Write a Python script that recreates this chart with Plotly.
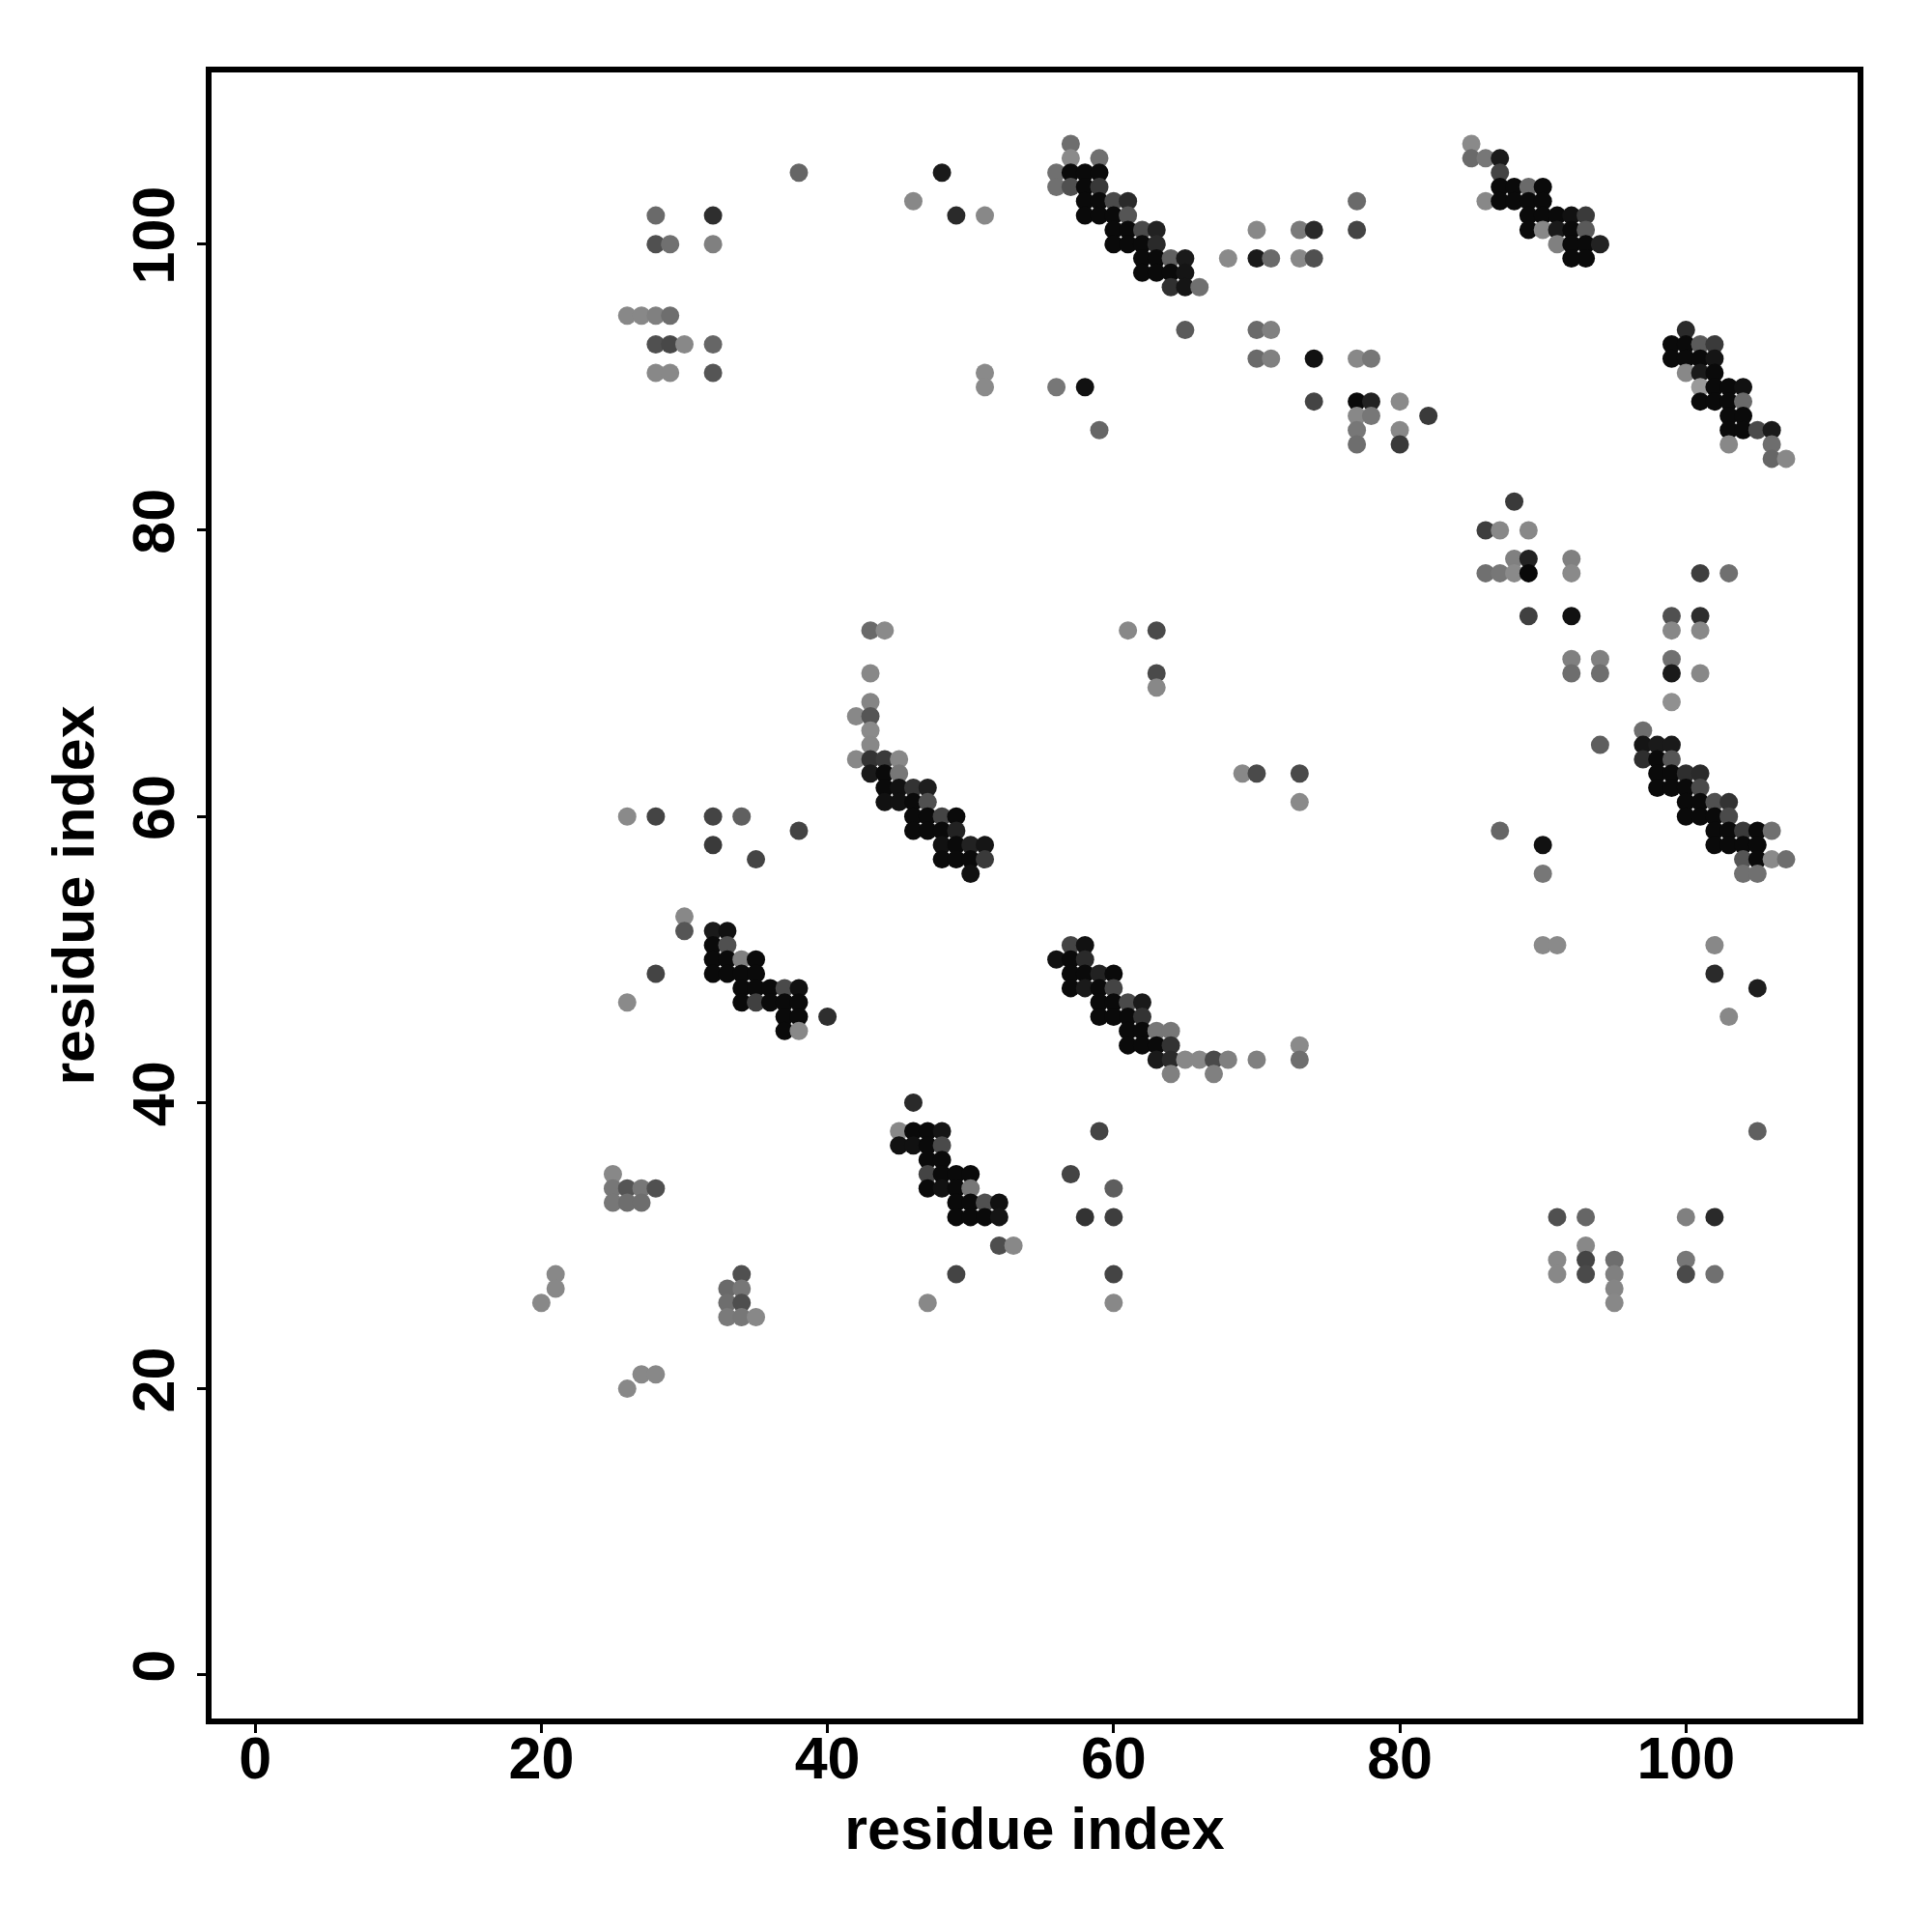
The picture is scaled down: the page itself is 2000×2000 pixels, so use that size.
import plotly.graph_objects as go

# residue index i (x), residue index j (y), grey level of the dot (0=black, 255=white)
res_i = [
    38, 48, 46, 49, 28, 32, 28, 29, 32, 26, 27, 28, 29, 28, 29, 30, 32, 28, 29, 32,
    51, 57, 57, 59, 56, 57, 58, 59, 56, 57, 58, 59, 58, 59, 60, 61, 58, 59, 60, 61,
    60, 61, 62, 63, 60, 61, 62, 63, 62, 63, 64, 65, 62, 63, 64, 65, 64, 65, 66, 65,
    68, 70, 70, 71, 73, 74, 73, 74, 77, 77, 70, 71, 70, 71, 74, 77, 78, 51, 51, 56,
    58, 59, 74, 77, 78, 80, 77, 78, 77, 77, 80, 80, 82,
    85, 85, 86, 87, 87, 87, 88, 89, 90, 86, 87, 88, 89, 90, 89, 90, 91, 92, 93, 89,
    90, 91, 92, 93, 91, 92, 93, 94, 92, 93,
    100, 99, 100, 101, 102, 99, 100, 101, 102, 100, 101, 102, 101, 102, 103, 104, 101, 102, 103, 104,
    103, 104, 103, 104, 105, 106, 103, 106, 106, 107, 88, 86, 87, 89,
    88, 89, 92, 86, 87, 88, 89, 92, 101, 103, 89, 92, 99, 101, 99, 101, 92, 94, 99, 92,
    94, 99, 101, 99, 97, 94, 97, 98, 99, 97, 98, 99, 98, 99, 100, 101, 98, 99, 100, 101,
    100, 101, 102, 103, 100, 101, 102, 103, 87, 102, 103, 104, 105, 106, 90, 102, 103, 104, 105, 104,
    105, 106, 107, 90, 104, 105, 90, 91, 102, 102, 105,
    43, 44, 43, 43, 42, 43, 43, 43, 42, 43, 44, 45, 43, 44, 45, 44, 45, 46, 47, 44,
    45, 46, 47, 26, 28, 32, 34, 46, 47, 48, 49, 38, 46, 47, 48, 49, 32, 48, 49, 50,
    51, 35, 48, 49, 50, 51, 50,
    30, 30, 32, 33, 32, 33, 32, 33, 34, 35, 28, 32, 33, 34, 35,
    34, 35, 36, 37, 38, 26, 34, 35, 36, 37, 38, 37, 38, 40, 37, 38,
    57, 58, 56, 57, 58, 57, 58, 59, 60, 57, 58, 59, 60, 59, 60, 61, 62, 59, 60, 61,
    62, 61, 62, 63, 64, 61, 62, 63, 64, 73, 63, 64, 65, 66, 67, 68, 70, 73, 64, 67,
    61, 63, 63, 63, 69, 70, 73, 73,
    46, 45, 46, 47, 48, 45, 46, 47, 48, 47, 48, 47, 48, 49, 50, 47, 48, 49, 50, 49,
    50, 51, 52, 49, 50, 51, 52, 52, 53, 49, 47, 25, 25, 26, 27, 28, 25, 26, 27, 21,
    34, 21, 33, 34, 20, 33, 34, 33, 34, 35, 27, 28, 26,
    59, 57, 60, 58, 60, 60, 60,
    103, 105, 91, 93, 100, 102, 93, 91, 93, 95, 100, 91, 93, 95, 100, 102, 95, 95,
]
res_j = [
    105, 105, 103, 102, 102, 102, 100, 100, 100, 95, 95, 95, 95, 93, 93, 93, 93, 91, 91, 91,
    102, 107, 106, 106, 105, 105, 105, 105, 104, 104, 104, 104, 103, 103, 103, 103, 102, 102, 102, 102,
    101, 101, 101, 101, 100, 100, 100, 100, 99, 99, 99, 99, 98, 98, 98, 98, 97, 97, 97, 94,
    99, 101, 99, 99, 101, 101, 99, 99, 103, 101, 94, 94, 92, 92, 92, 92, 92, 91, 90, 90,
    90, 87, 89, 89, 89, 89, 88, 88, 87, 86, 87, 86, 88,
    107, 106, 106, 106, 105, 104, 104, 104, 104, 103, 103, 103, 103, 103, 102, 102, 102, 102, 102, 101,
    101, 101, 101, 101, 100, 100, 100, 100, 99, 99,
    94, 93, 93, 93, 93, 92, 92, 92, 92, 91, 91, 91, 90, 90, 90, 90, 89, 89, 89, 89,
    88, 88, 87, 87, 87, 87, 86, 86, 85, 85, 82, 80, 80, 80,
    78, 78, 78, 77, 77, 77, 77, 77, 77, 77, 74, 74, 74, 74, 73, 73, 71, 71, 71, 70,
    70, 70, 70, 68, 66, 65, 65, 65, 65, 64, 64, 64, 63, 63, 63, 63, 62, 62, 62, 62,
    61, 61, 61, 61, 60, 60, 60, 60, 59, 59, 59, 59, 59, 59, 58, 58, 58, 58, 58, 57,
    57, 57, 57, 56, 56, 56, 51, 51, 51, 49, 48,
    73, 73, 70, 68, 67, 67, 66, 65, 64, 64, 64, 64, 63, 63, 63, 62, 62, 62, 62, 61,
    61, 61, 61, 60, 60, 60, 60, 60, 60, 60, 60, 59, 59, 59, 59, 59, 58, 58, 58, 58,
    58, 57, 57, 57, 57, 57, 56,
    53, 52, 52, 52, 51, 51, 50, 50, 50, 50, 49, 49, 49, 49, 49,
    48, 48, 48, 48, 48, 47, 47, 47, 47, 47, 47, 46, 46, 46, 45, 45,
    51, 51, 50, 50, 50, 49, 49, 49, 49, 48, 48, 48, 48, 47, 47, 47, 47, 46, 46, 46,
    46, 45, 45, 45, 45, 44, 44, 44, 44, 44, 43, 43, 43, 43, 43, 43, 43, 43, 42, 42,
    73, 73, 70, 69, 63, 63, 63, 61,
    40, 38, 38, 38, 38, 37, 37, 37, 37, 36, 36, 35, 35, 35, 35, 34, 34, 34, 34, 33,
    33, 33, 33, 32, 32, 32, 32, 30, 30, 28, 26, 35, 34, 34, 34, 34, 33, 33, 33, 28,
    28, 27, 27, 27, 26, 26, 26, 25, 25, 25, 21, 21, 20,
    38, 35, 34, 32, 32, 28, 26,
    46, 38, 32, 32, 32, 32, 30, 29, 29, 29, 29, 28, 28, 28, 28, 28, 27, 26,
]
shade = [
    0x66, 0x1a, 0x88, 0x2a, 0x6a, 0x2e, 0x50, 0x70, 0x80, 0x88, 0x88, 0x80, 0x6e, 0x50, 0x48, 0x88, 0x66, 0x88, 0x88, 0x55,
    0x88, 0x6e, 0x8a, 0x70, 0x70, 0x0a, 0x0a, 0x0a, 0x70, 0x50, 0x0a, 0x38, 0x0a, 0x0a, 0x4a, 0x2a, 0x0a, 0x0a, 0x0a, 0x55,
    0x0a, 0x0a, 0x4a, 0x22, 0x0a, 0x0a, 0x0a, 0x2a, 0x0a, 0x0a, 0x60, 0x1a, 0x0a, 0x0a, 0x0a, 0x15, 0x30, 0x15, 0x70, 0x5a,
    0x8a, 0x88, 0x1a, 0x6a, 0x7a, 0x2a, 0x88, 0x50, 0x6a, 0x44, 0x6a, 0x80, 0x6a, 0x80, 0x11, 0x88, 0x77, 0x8a, 0x8a, 0x77,
    0x11, 0x66, 0x44, 0x0a, 0x22, 0x8a, 0x88, 0x77, 0x77, 0x6e, 0x88, 0x3a, 0x3a,
    0x8a, 0x6a, 0x77, 0x1a, 0x44, 0x0a, 0x0a, 0x6a, 0x0a, 0x88, 0x0a, 0x0a, 0x0a, 0x0a, 0x0a, 0x0a, 0x0a, 0x11, 0x3a, 0x0a,
    0x88, 0x1a, 0x0a, 0x5a, 0x80, 0x0a, 0x0a, 0x22, 0x0a, 0x0a,
    0x2a, 0x0a, 0x0a, 0x5a, 0x3a, 0x0a, 0x0a, 0x0a, 0x15, 0x88, 0x1a, 0x0a, 0x99, 0x0a, 0x0a, 0x11, 0x0a, 0x0a, 0x0a, 0x6a,
    0x0a, 0x0a, 0x0a, 0x0a, 0x4a, 0x1a, 0x88, 0x6e, 0x66, 0x88, 0x3a, 0x3e, 0x88, 0x88,
    0x80, 0x22, 0x80, 0x70, 0x77, 0x8a, 0x08, 0x8a, 0x3e, 0x70, 0x40, 0x11, 0x50, 0x2e, 0x88, 0x88, 0x80, 0x80, 0x70, 0x6e,
    0x6e, 0x1a, 0x88, 0x90, 0x6e, 0x5e, 0x15, 0x1a, 0x1a, 0x2e, 0x0a, 0x55, 0x0a, 0x0a, 0x2e, 0x2a, 0x0a, 0x0a, 0x0a, 0x4a,
    0x0a, 0x0a, 0x50, 0x33, 0x0a, 0x0a, 0x0a, 0x4a, 0x66, 0x0a, 0x0a, 0x3a, 0x0a, 0x70, 0x11, 0x0a, 0x0a, 0x0a, 0x0a, 0x55,
    0x0a, 0x8a, 0x6e, 0x77, 0x70, 0x70, 0x8a, 0x8a, 0x88, 0x2a, 0x1e,
    0x6a, 0x8a, 0x88, 0x85, 0x88, 0x55, 0x8a, 0x88, 0x88, 0x33, 0x3a, 0x88, 0x1a, 0x0a, 0x77, 0x0a, 0x11, 0x33, 0x1e, 0x11,
    0x11, 0x0a, 0x50, 0x8a, 0x44, 0x44, 0x60, 0x0a, 0x0a, 0x44, 0x0a, 0x44, 0x0a, 0x0a, 0x0a, 0x22, 0x3a, 0x11, 0x0a, 0x22,
    0x15, 0x44, 0x0a, 0x0a, 0x0a, 0x3a, 0x11,
    0x88, 0x55, 0x1a, 0x11, 0x0a, 0x50, 0x0a, 0x0a, 0x80, 0x0a, 0x44, 0x0a, 0x0a, 0x0a, 0x0a,
    0x0a, 0x0a, 0x0a, 0x4a, 0x11, 0x8a, 0x0a, 0x40, 0x0a, 0x0a, 0x0a, 0x0a, 0x0a, 0x2e, 0x0a, 0x88,
    0x44, 0x11, 0x11, 0x0a, 0x2a, 0x0a, 0x0a, 0x22, 0x0a, 0x0a, 0x1a, 0x0a, 0x44, 0x0a, 0x0a, 0x4a, 0x1a, 0x0a, 0x0a, 0x0a,
    0x33, 0x0a, 0x0a, 0x77, 0x77, 0x0a, 0x0a, 0x0a, 0x33, 0x8a, 0x1a, 0x2a, 0x88, 0x88, 0x4a, 0x80, 0x80, 0x6e, 0x80, 0x80,
    0x88, 0x4a, 0x4a, 0x88, 0x88, 0x4a, 0x4a, 0x8a,
    0x2a, 0x88, 0x0a, 0x0a, 0x15, 0x11, 0x11, 0x0a, 0x4a, 0x0a, 0x0a, 0x44, 0x0a, 0x0a, 0x0a, 0x0a, 0x11, 0x0a, 0x77, 0x0a,
    0x0a, 0x50, 0x11, 0x0a, 0x0a, 0x0a, 0x15, 0x4e, 0x88, 0x44, 0x88, 0x88, 0x77, 0x55, 0x77, 0x50, 0x77, 0x6e, 0x6e, 0x88,
    0x50, 0x88, 0x6a, 0x77, 0x88, 0x6e, 0x4e, 0x7a, 0x77, 0x88, 0x88, 0x88, 0x88,
    0x44, 0x44, 0x5e, 0x33, 0x3e, 0x44, 0x88,
    0x88, 0x60, 0x50, 0x66, 0x80, 0x2a, 0x88, 0x88, 0x44, 0x6e, 0x77, 0x88, 0x4a, 0x80, 0x4a, 0x70, 0x85, 0x88,
]

tick_vals = [0, 20, 40, 60, 80, 100]
axis_title = "residue index"

colors = [f"rgb({g},{g},{g})" for g in shade]

fig = go.Figure(
    go.Scatter(
        x=res_i,
        y=res_j,
        mode="markers",
        marker=dict(size=19, color=colors, line=dict(width=0)),
        hoverinfo="x+y",
    )
)

font = dict(family="Liberation Sans, Arial, Helvetica, sans-serif", size=61, color="black", weight="bold")

axis_common = dict(
    range=[-3.05, 112.0],
    tickvals=tick_vals,
    ticktext=[str(v) for v in tick_vals],
    ticks="outside",
    ticklen=9,
    tickwidth=3,
    tickcolor="black",
    showline=True,
    linewidth=6,
    linecolor="black",
    mirror=True,
    showgrid=False,
    zeroline=False,
    tickfont=font,
    automargin=False,
)

fig.update_layout(
    width=2000,
    height=2000,
    margin=dict(l=211, r=85, t=67, b=229),
    paper_bgcolor="white",
    plot_bgcolor="white",
    showlegend=False,
    font=font,
    xaxis=dict(**axis_common, ticklabelstandoff=-26,
               title=dict(text=axis_title, font=font, standoff=20)),
    yaxis=dict(**axis_common, tickangle=-90,
               title=dict(text=axis_title, font=font, standoff=9)),
)

fig.write_html("out.html")
